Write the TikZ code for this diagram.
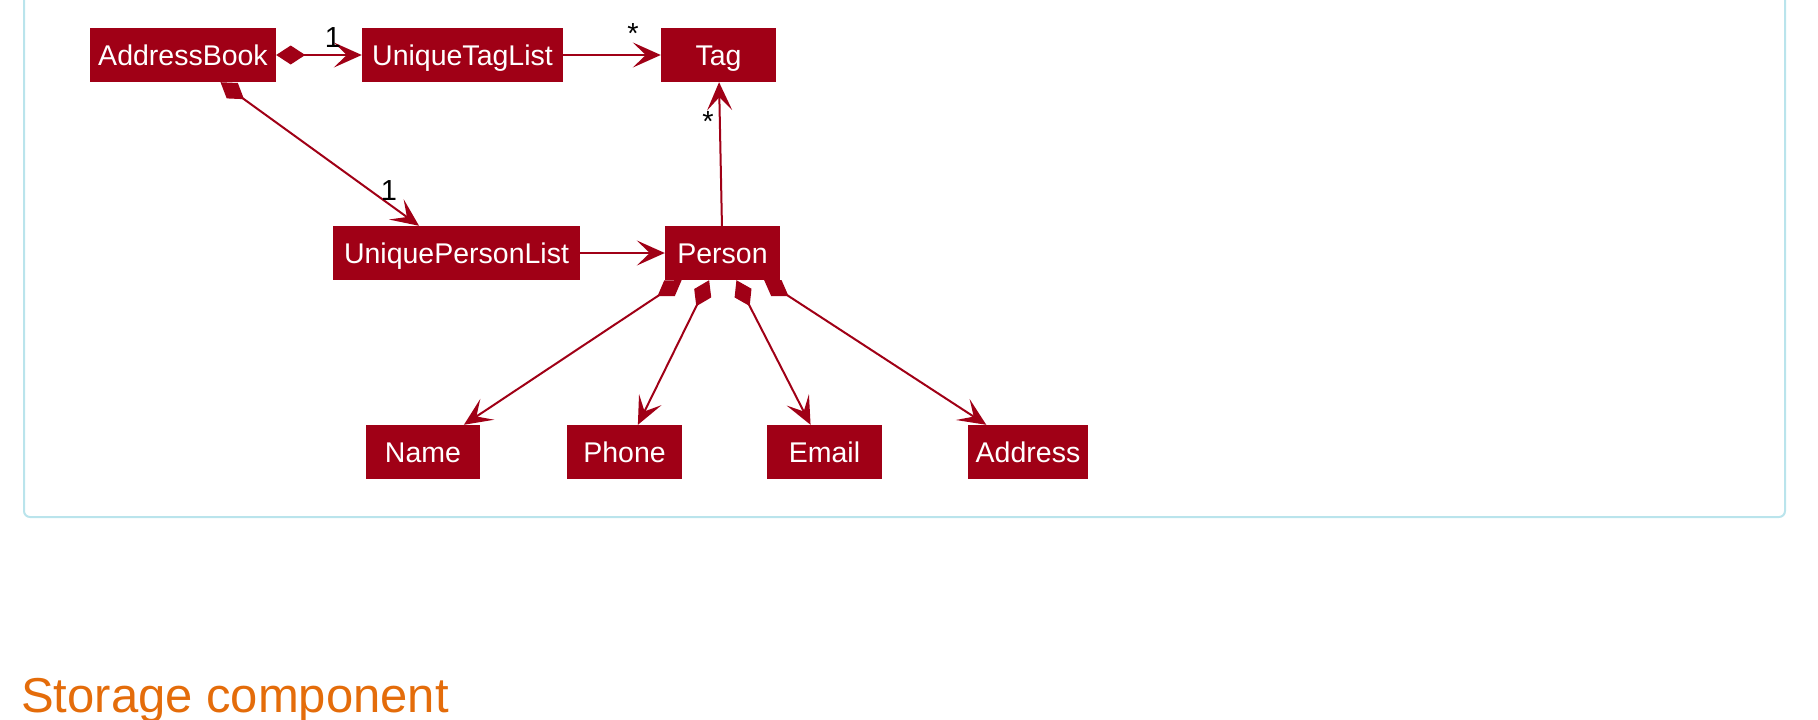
\documentclass[tikz,border=0pt]{standalone}
\usepackage{fontspec}
\setmainfont{Liberation Sans}
\usetikzlibrary{arrows.meta}
\definecolor{umlred}{RGB}{160,0,22}
\definecolor{framecyan}{RGB}{186,228,236}
\definecolor{headorange}{RGB}{228,108,10}
\begin{document}
\begin{tikzpicture}[x=1pt,y=-1pt,
  cls/.style={fill=umlred, text=white, minimum height=54pt, inner sep=0pt,
              text height=20.4pt, text depth=0pt,
              font=\fontsize{28.5}{34}\selectfont},
  opentip/.tip={Stealth[length=28pt,width=25pt,inset=13pt]},
  comptip/.tip={Diamond[length=29pt,width=19pt]},
  assoc/.style={draw=umlred, line width=2pt, -opentip},
  comp/.style={draw=umlred, line width=2pt, comptip-opentip},
  mult/.style={font=\fontsize{29}{34}\selectfont, inner sep=0pt, anchor=base}
]
\useasboundingbox (0,0) rectangle (1818,720);

% panel frame, open at the top
\draw[framecyan, line width=2pt, rounded corners=6pt]
  (24,0) -- (24,517) -- (1785,517) -- (1785,0);

% classes
\node[cls, minimum width=186pt] (ab)  at (183,55)    {AddressBook};
\node[cls, minimum width=201pt] (utl) at (462.5,55)  {UniqueTagList};
\node[cls, minimum width=115pt] (tag) at (718.5,55)  {Tag};
\node[cls, minimum width=247pt] (upl) at (456.5,253) {UniquePersonList};
\node[cls, minimum width=115pt] (per) at (722.5,253) {Person};
\node[cls, minimum width=114pt] (nam) at (423,452)   {Name};
\node[cls, minimum width=115pt] (pho) at (624.5,452) {Phone};
\node[cls, minimum width=115pt] (ema) at (824.5,452) {Email};
\node[cls, minimum width=120pt] (adr) at (1028,452)  {Address};

% associations
\draw[comp]  (ab)  -- (utl);
\draw[assoc] (utl) -- (tag);
\draw[comp]  (ab)  -- (upl);
\draw[assoc] (upl) -- (per);
\draw[assoc] (per) -- (tag);
\draw[comp]  (per) -- (nam);
\draw[comp]  (per) -- (pho);
\draw[comp]  (per) -- (ema);
\draw[comp]  (per) -- (adr);

% multiplicities
\node[mult] (m1) at (333,47)  {1};
\node[mult] (m2) at (633,43)  {*};
\node[mult] (m3) at (389,200) {1};
\node[mult] (m4) at (708,131) {*};

% section heading
\node[anchor=base west, inner sep=0pt, text=headorange,
      font=\fontsize{49}{58}\selectfont] (head) at (21,712) {Storage component};
\end{tikzpicture}
\end{document}
